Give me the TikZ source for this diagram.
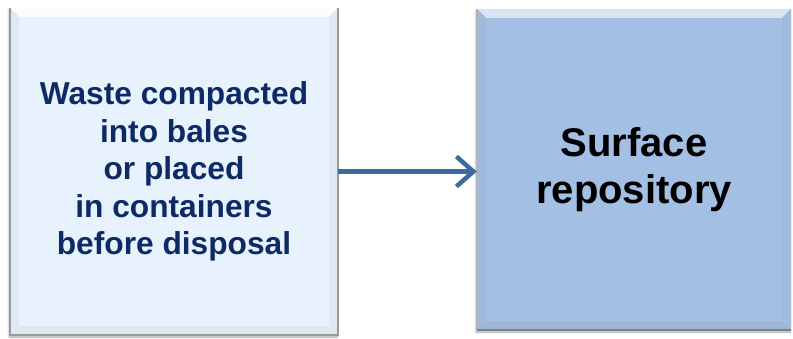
\documentclass[tikz,border=0pt]{standalone}
\usepackage{fontspec}
\setmainfont{Liberation Sans}
\usetikzlibrary{arrows.meta, calc, positioning, shadows.blur}
\definecolor{stageLight}{HTML}{E8F2FD}
\definecolor{stageBlue}{HTML}{A3BFE3}
\definecolor{stageNavy}{HTML}{0E2A66}
\definecolor{flowBlue}{HTML}{3F6A9E}

% bevelled edges inside a box: depth, top, left, bottom, right colours
\newcommand{\bevelbox}[5]{%
  \coordinate (nw) at (path picture bounding box.north west);
  \coordinate (ne) at (path picture bounding box.north east);
  \coordinate (sw) at (path picture bounding box.south west);
  \coordinate (se) at (path picture bounding box.south east);
  \fill[#2] (nw) -- (ne) -- ($(ne)+(-#1,-#1)$) -- ($(nw)+(#1,-#1)$) -- cycle;
  \fill[#3] (nw) -- ($(nw)+(#1,-#1)$) -- ($(sw)+(#1,#1)$) -- (sw) -- cycle;
  \fill[#4] (sw) -- ($(sw)+(#1,#1)$) -- ($(se)+(-#1,#1)$) -- (se) -- cycle;
  \fill[#5] (se) -- ($(se)+(-#1,#1)$) -- ($(ne)+(-#1,-#1)$) -- (ne) -- cycle;
}

\tikzset{
  stagebox/.style={rectangle, align=center, inner sep=0pt,
    blur shadow={shadow xshift=-1pt, shadow yshift=-2pt, shadow blur steps=6, shadow opacity=35}},
  flow/.style={-{Straight Barb[length=17pt, width=30pt, line width=4.5pt]}, line width=4.5pt, flowBlue}
}

\begin{document}
\begin{tikzpicture}[x=1pt, y=1pt]
  \useasboundingbox (0,0) rectangle (793,338);
  % the two stages
  \node[stagebox, fill=stageLight, minimum width=328pt, minimum height=327pt,
        font=\bfseries\fontsize{31.7}{37.5}\selectfont, text=stageNavy,
        path picture={\bevelbox{9pt}{white!80!stageLight}{stageLight!92!gray}{stageLight!90!gray}{stageLight!92!gray}}]
        (waste) at (174,166.5)
        {Waste compacted\\into bales\\or placed\\in containers\\before disposal};
  \node[stagebox, fill=stageBlue, minimum width=314pt, minimum height=321pt,
        font=\bfseries\fontsize{40}{47}\selectfont,
        path picture={\bevelbox{9pt}{stageBlue!40!white}{stageBlue!92!gray}{stageBlue!85!gray}{stageBlue!94!gray}}]
        (repo) at (634,168.5)
        {Surface\\repository};
  % dark rims
  \draw[gray!80, line width=1.5pt] (waste.north east) -- (waste.south east) -- (waste.south west) -- (waste.north west);
  \draw[gray, line width=1.5pt] (repo.south west) -- (repo.south east);
  \draw[gray!60, line width=1pt] (repo.south west) -- (repo.north west);
  % flow
  \draw[flow] (waste.east) -- (waste.east -| repo.west);
\end{tikzpicture}
\end{document}
